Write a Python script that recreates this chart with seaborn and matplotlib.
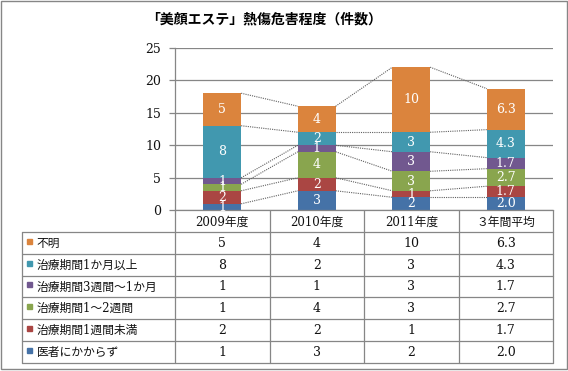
import matplotlib
matplotlib.use("Agg")
import matplotlib.pyplot as plt
import matplotlib.patches as mpatches
import numpy as np
import seaborn as sns

# ── Data ──────────────────────────────────────────────────────────────────────
TITLE = "「美顔エステ」熱傷危害程度（件数）"
YEARS = ["2009年度", "2010年度", "2011年度", "３年間平均"]

# stack order: bottom → top
SERIES_NAMES = ["医者にかからず", "治療期間1週間未満", "治療期間1～2週間",
                "治療期間3週間～1か月", "治療期間1か月以上", "不明"]
NO_DOCTOR = [1, 3, 2, 2.0]
UNDER_1W = [2, 2, 1, 1.7]
WEEK_1_2 = [1, 4, 3, 2.7]
WEEK3_MONTH1 = [1, 1, 3, 1.7]
OVER_1M = [8, 2, 3, 4.3]
UNKNOWN = [5, 4, 10, 6.3]
SERIES_VALUES = [NO_DOCTOR, UNDER_1W, WEEK_1_2, WEEK3_MONTH1, OVER_1M, UNKNOWN]
COLORS = ["#4572A7", "#AA4643", "#89A54E", "#71588F", "#4198AF", "#DB843D"]
LABEL_FMT = ["{:.0f}", "{:.0f}", "{:.0f}", "{:.1f}"]

Y_TICKS = [0, 5, 10, 15, 20, 25]

# ── Style ─────────────────────────────────────────────────────────────────────
GRID = "#868686"
TXT = "#111111"
SERIF = ["DejaVu Serif", "Noto Sans CJK JP"]
JP = ["Noto Sans CJK JP", "DejaVu Sans"]

sns.set_theme(style="white")
plt.rcParams["font.family"] = SERIF

W, H = 568, 371
def fx(px):
    return px / W
def fy(py):
    return 1 - py / H

fig = plt.figure(figsize=(W / 100, H / 100), dpi=100)

# chart area (pixel box)
AX_L, AX_R, AX_T, AX_B = 175, 553, 47.7, 210.3
ax = fig.add_axes([fx(AX_L), fy(AX_B), fx(AX_R) - fx(AX_L), fy(AX_T) - fy(AX_B)])

bottom = np.zeros(len(YEARS))
tops = []
for name, vals, color in zip(SERIES_NAMES, SERIES_VALUES, COLORS):
    vals = np.array(vals, dtype=float)
    sns.barplot(x=YEARS, y=vals, order=YEARS, color=color, saturation=1,
                width=0.4, bottom=bottom.copy(), errorbar=None, linewidth=0,
                ax=ax, zorder=2)
    for i, v in enumerate(vals):
        ax.text(i, bottom[i] + v / 2, LABEL_FMT[i].format(v), ha="center",
                va="center", color="white", fontsize=9, family=SERIF, zorder=4)
    bottom = bottom + vals
    tops.append(bottom.copy())

# series lines between neighbouring bars
for top in tops:
    for i in range(len(YEARS) - 1):
        ax.plot([i + 0.2, i + 0.8], [top[i], top[i + 1]], ls=(0, (1, 1)),
                color="#606060", lw=0.8, zorder=3)

ax.set_xlim(-0.5, len(YEARS) - 0.5)
ax.set_ylim(0, 25)
ax.set_yticks(Y_TICKS)
ax.yaxis.grid(True, color=GRID, lw=0.9)
ax.set_axisbelow(True)
ax.set_xlabel("")
ax.set_ylabel("")
ax.tick_params(axis="x", length=0, labelbottom=False)
ax.tick_params(axis="y", length=4, width=0.9, color=GRID, labelsize=9,
               labelcolor=TXT, pad=6, left=True)
for s in ["top", "right"]:
    ax.spines[s].set_visible(False)
for s in ["left", "bottom"]:
    ax.spines[s].set_color(GRID)
    ax.spines[s].set_linewidth(0.9)

# ── Data table (pixel coordinates overlay) ────────────────────────────────────
tab = fig.add_axes([0, 0, 1, 1], zorder=-1)
tab.set_xlim(0, W)
tab.set_ylim(H, 0)
tab.axis("off")

col_w = (AX_R - AX_L) / len(YEARS)
edges = [AX_L + k * col_w for k in range(len(YEARS) + 1)]
TAB_L = 22.3
rh = 21.77
n_rows = len(SERIES_NAMES)
y0 = AX_B
lkw = dict(color=GRID, lw=0.9)

for e in edges:
    tab.plot([e, e], [y0, y0 + rh * (n_rows + 1)], **lkw)
tab.plot([TAB_L, TAB_L], [y0 + rh, y0 + rh * (n_rows + 1)], **lkw)
for k in range(1, n_rows + 2):
    tab.plot([TAB_L, AX_R], [y0 + rh * k, y0 + rh * k], **lkw)

for j, yr in enumerate(YEARS):
    tab.text(AX_L + (j + 0.5) * col_w, y0 + rh / 2 + 1, yr, ha="center",
             va="center", fontsize=8.5, family=SERIF, color=TXT)

for r in range(n_rows):
    s = n_rows - 1 - r
    yc = y0 + rh * (r + 1.5)
    tab.add_patch(mpatches.Rectangle((27.3, yc - 4), 5, 5, color=COLORS[s]))
    tab.text(36.5, yc + 0.5, SERIES_NAMES[s], ha="left", va="center",
             fontsize=8.5, family=SERIF, color=TXT)
    for j, v in enumerate(SERIES_VALUES[s]):
        tab.text(AX_L + (j + 0.5) * col_w, yc + 0.5, LABEL_FMT[j].format(v),
                 ha="center", va="center", fontsize=9, family=SERIF, color=TXT)

# title and chart border
fig.text(fx(264), fy(19), TITLE, ha="center", va="center", fontsize=10,
         fontweight="bold", family=JP, color="#000000")
fig.add_artist(mpatches.Rectangle((fx(0.7), fy(368.7)), fx(567) - fx(0.7),
                                  fy(0.7) - fy(368.7), transform=fig.transFigure,
                                  fill=False, edgecolor=GRID, lw=1))

fig.savefig("out.png", dpi=100)
